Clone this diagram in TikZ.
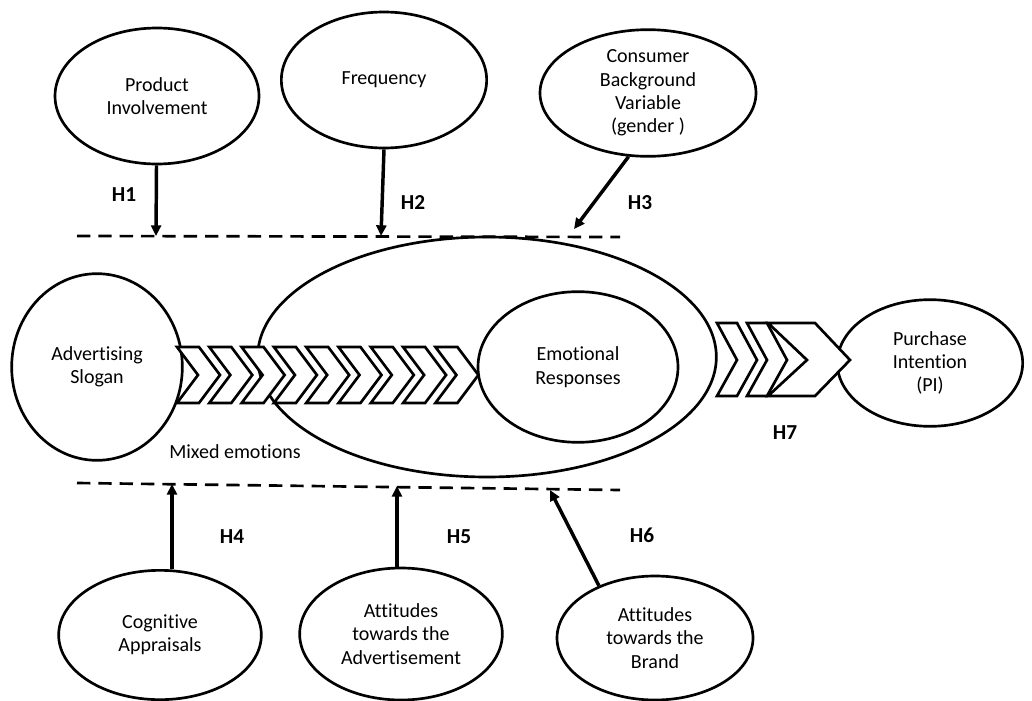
\documentclass[tikz,border=0pt]{standalone}
\usepackage{fontspec}
\setmainfont[Ligatures=NoCommon]{Carlito}
\usepackage{tikz}
\usetikzlibrary{positioning,shapes.geometric,arrows.meta}
\tikzset{
  hyp/.style={font=\fontsize{16}{19}\selectfont\bfseries},
  chev/.style={draw,fill=white,line width=2pt,line join=miter},
  level/.style={line width=2pt,dash pattern=on 10pt off 6pt}
}

\begin{document}
\begin{tikzpicture}[x=0.75pt,y=-0.75pt,font=\fontsize{15}{17.5}\selectfont]
        \useasboundingbox (0,0) rectangle (1032,700);
        \begin{scope}[every node/.style={ellipse,draw,line width=2pt,inner sep=0pt,align=center}]
            \node[minimum width=344pt,minimum height=180pt] (me) at (487,357) {};
            \node[minimum width=153pt,minimum height=102pt] (pi) at (157,96) {Product\\Involvement};
            \node[minimum width=154pt,minimum height=102pt] (fr) at (384,80) {Frequency};
            \node[minimum width=162pt,minimum height=95pt] (cb) at (648,93) {Consumer\\Background\\Variable\\(gender )};
            \node[minimum width=128pt,minimum height=140pt] (as) at (97,367) {Advertising\\Slogan};
            \node[minimum width=150pt,minimum height=113pt] (er) at (578,367) {Emotional\\Responses};
            \node[minimum width=139pt,minimum height=95pt] (pu) at (930,363) {Purchase\\Intention\\(PI)};
            \node[minimum width=152pt,minimum height=97pt] (ca) at (160,635) {Cognitive\\Appraisals};
            \node[minimum width=152pt,minimum height=99pt] (aa) at (401,634) {Attitudes\\towards the\\Advertisement};
            \node[minimum width=147pt,minimum height=93pt] (ab) at (655,638) {Attitudes\\towards the\\Brand};
        \end{scope}
        \node (mx) at (235,452) {Mixed emotions};
        \foreach \i in {0,...,8}
            \draw[chev] ({177+32.3*\i},347) -- ++(22,0) -- ++(21,28) -- ++(-21,28) -- ++(-22,0) -- ++(21,-28) -- cycle;
        \draw[chev] (717,323) -- (737,323) -- (757,360) -- (737,396) -- (717,396) -- (737,360) -- cycle;
        \draw[chev] (747,323) -- (767,323) -- (787,360) -- (767,396) -- (747,396) -- (767,360) -- cycle;
        \draw[chev] (768,323) -- (815,323) -- (850,360) -- (815,396) -- (768,396) -- (807,360) -- cycle;
        \coordinate (ul) at (77,236);
        \coordinate (ur) at (620,237);
        \coordinate (ll) at (77,483);
        \coordinate (lr) at (620,490);
        \draw[level] (ul) -- (ur);
        \draw[level] (ll) -- (lr);
        \coordinate (t1) at (156,236);
        \coordinate (t2) at (381,236);
        \coordinate (t3) at (574,229);
        \coordinate (t4) at (172,484);
        \coordinate (t5) at (397,486);
        \coordinate (t6) at (550,490);
        \begin{scope}[every edge/.style={draw,line width=2.6pt,-{Triangle[length=8pt,width=7.5pt]}}]
            \path (pi) edge (t1);
            \path (fr.south) edge (t2);
            \path (cb.253) edge (t3);
            \path (ca.north -| t4) edge (t4);
            \path (aa.north -| t5) edge (t5);
            \path (ab.137) edge (t6);
        \end{scope}
        \node[hyp] (h1) at (124,195) {H1};
        \node[hyp] (h2) at (413,203) {H2};
        \node[hyp] (h3) at (640,203) {H3};
        \node[hyp] (h4) at (232,537) {H4};
        \node[hyp] (h5) at (459,537) {H5};
        \node[hyp] (h6) at (642,535) {H6};
        \node[hyp] (h7) at (785,433) {H7};
    \end{tikzpicture}
\end{document}
